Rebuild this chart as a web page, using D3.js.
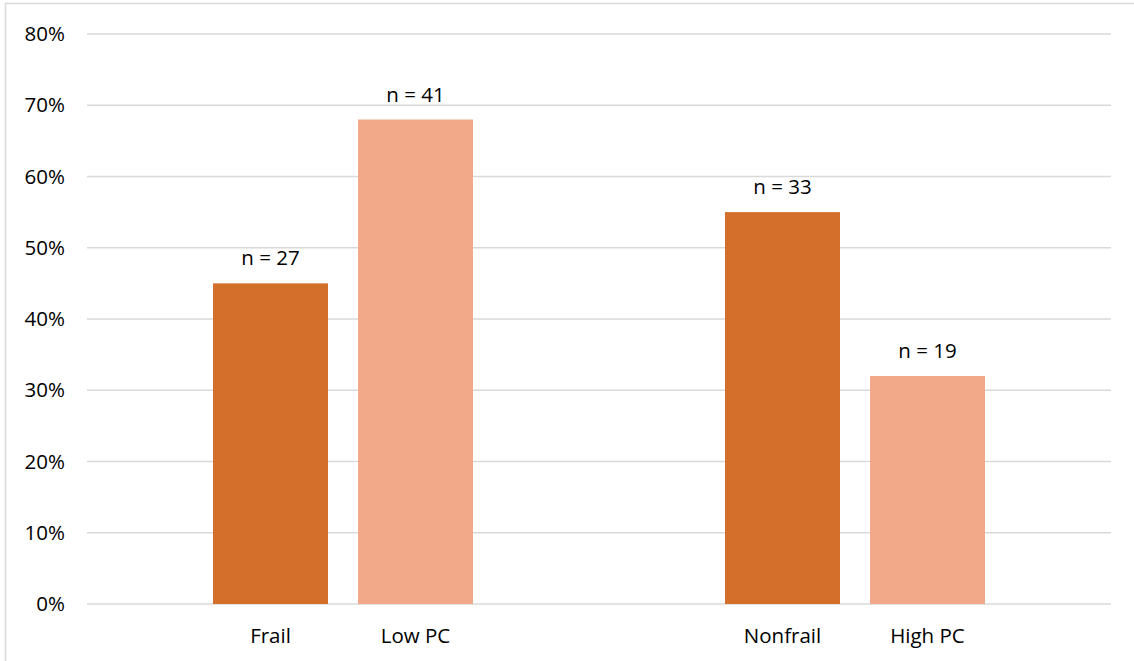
<!DOCTYPE html>
<html>
<head>
<meta charset="utf-8">
<script src="https://cdn.jsdelivr.net/npm/d3@7"></script>
<style>
  html, body { margin: 0; padding: 0; background: #fff; }
  svg { display: block; font-family: "Open Sans", "Liberation Sans", sans-serif; }
</style>
</head>
<body>
<svg id="chart" width="1134" height="661"></svg>
<script>
// Grouped columns: percentage per group, with sample size above each bar
const groups = ["A", "B"];
const categories = [["Frail", "Low PC"], ["Nonfrail", "High PC"]];
const values = [[45, 68], [55, 32]];
const counts = [[27, 41], [33, 19]];
const yTicks = [0, 10, 20, 30, 40, 50, 60, 70, 80];
const colors = ["#D46F2B", "#F1A98A"];

const svg = d3.select("#chart");
const W = 1134, H = 661;
const margin = { left: 87, right: 23, top: 34, bottom: 57 };
const FS = 20.5;

// chart area border
svg.append("rect")
  .attr("x", 5.5).attr("y", 3.5)
  .attr("width", W + 10).attr("height", H + 10)
  .attr("fill", "none").attr("stroke", "#d9d9d9").attr("stroke-width", 1.5);

const x0 = d3.scaleBand().domain(groups)
  .range([margin.left, W - margin.right]);
const x1 = d3.scaleBand().domain([0, 1])
  .range([0, x0.bandwidth()]).paddingInner(0.2069).paddingOuter(0.869);
const y = d3.scaleLinear().domain([0, 80]).range([H - margin.bottom, margin.top]);

// horizontal gridlines
svg.append("g")
  .selectAll("line").data(yTicks).join("line")
  .attr("x1", margin.left).attr("x2", W - margin.right)
  .attr("y1", d => y(d)).attr("y2", d => y(d))
  .attr("stroke", "#d9d9d9").attr("stroke-width", 1.5);

// y axis labels
const yAxis = d3.axisLeft(y).tickValues(yTicks).tickFormat(d => d + "%").tickSize(0).tickPadding(0);
const ya = svg.append("g").attr("transform", `translate(${65},0)`).call(yAxis);
ya.select(".domain").remove();
ya.selectAll("text").attr("font-size", FS).attr("fill", "#000")
  .attr("font-family", "'Open Sans', 'Liberation Sans', sans-serif");

// bars, value labels and category labels
groups.forEach((g, gi) => {
  const gEl = svg.append("g").attr("transform", `translate(${x0(g)},0)`);
  const rows = values[gi].map((v, i) => ({ v, i, n: counts[gi][i], cat: categories[gi][i] }));
  gEl.selectAll("rect").data(rows).join("rect")
    .attr("x", d => x1(d.i)).attr("width", x1.bandwidth())
    .attr("y", d => y(d.v)).attr("height", d => y(0) - y(d.v))
    .attr("fill", d => colors[d.i]);
  gEl.selectAll("text.n").data(rows).join("text")
    .attr("class", "n")
    .attr("x", d => x1(d.i) + x1.bandwidth() / 2)
    .attr("y", d => y(d.v) - 18)
    .attr("text-anchor", "middle").attr("font-size", FS).attr("fill", "#000")
    .text(d => "n = " + d.n);
  gEl.selectAll("text.cat").data(rows).join("text")
    .attr("class", "cat")
    .attr("x", d => x1(d.i) + x1.bandwidth() / 2)
    .attr("y", y(0) + 39)
    .attr("text-anchor", "middle").attr("font-size", FS).attr("fill", "#000")
    .text(d => d.cat);
});
</script>
</body>
</html>
